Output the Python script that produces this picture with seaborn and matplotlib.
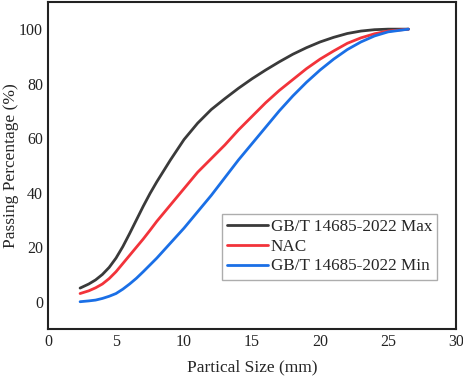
import pandas as pd
import seaborn as sns
import matplotlib
matplotlib.use("Agg")
import matplotlib.pyplot as plt

# Grading curves
size_mm = [2.36, 3, 3.5, 4, 4.5, 5, 5.5, 6, 6.5, 7, 7.5, 8, 9, 10, 11, 12, 13, 14, 15, 16,
           17, 18, 19, 20, 21, 22, 23, 24, 25, 26.5]
gb_max = [5, 6.5, 8, 10, 12.6, 16, 20.2, 25, 30, 35, 39.7, 44, 52, 59.5, 65.5, 70.5, 74.5, 78.3, 81.8, 85,
          88, 90.8, 93.2, 95.3, 97, 98.4, 99.3, 99.8, 100, 100]
nac = [3, 4, 5.1, 6.5, 8.5, 11, 14, 17, 20, 23, 26.2, 29.5, 35.5, 41.5, 47.5, 52.5, 57.5, 63, 68, 73,
       77.5, 81.5, 85.5, 89, 92, 94.8, 96.8, 98.3, 99.3, 100]
gb_min = [0, 0.3, 0.6, 1.2, 2, 3, 4.6, 6.5, 8.6, 11, 13.5, 16, 21.5, 27, 33, 39, 45.5, 52, 58, 64,
          70, 75.5, 80.5, 85, 89, 92.5, 95.3, 97.5, 99, 100]

series_names = ["GB/T 14685-2022 Max", "NAC", "GB/T 14685-2022 Min"]
series_colors = ["#3a3a3a", "#f2333a", "#1a6fe6"]

# long form table for seaborn
df = pd.concat([
    pd.DataFrame({"size": size_mm, "passing": vals, "curve": name})
    for name, vals in zip(series_names, [gb_max, nac, gb_min])
])

sns.set_theme(style="white")
plt.rcParams["font.family"] = ["Liberation Serif", "DejaVu Serif"]

fig, ax = plt.subplots(figsize=(4.64, 3.79), dpi=100)
fig.subplots_adjust(left=0.1034, right=0.983, top=0.995, bottom=0.132)

sns.lineplot(data=df, x="size", y="passing", hue="curve", hue_order=series_names,
             palette=series_colors, linewidth=2, ax=ax, sort=True, estimator=None)

ax.set_xlim(0, 30)
ax.set_ylim(-10, 110)
ax.set_xticks([0, 5, 10, 15, 20, 25, 30])
ax.set_yticks([0, 20, 40, 60, 80, 100])
ax.tick_params(direction="in", length=5, width=1.2, labelsize=11.5, colors="#222222")
for s in ax.spines.values():
    s.set_linewidth(1.5)
    s.set_color("#222222")

ax.set_xlabel("Partical Size (mm)", fontsize=12.5, labelpad=7)
ax.set_ylabel("Passing Percentage (%)", fontsize=12.5)
ax.yaxis.set_label_coords(-0.07, 0.5)

leg = ax.legend(loc="upper left", bbox_to_anchor=(0.426, 0.352), borderaxespad=0,
                fontsize=12.3, frameon=True, fancybox=False, handlelength=2.4,
                handletextpad=0.15, borderpad=0.3, labelspacing=0.22)
leg.get_frame().set_edgecolor("#999999")
leg.get_frame().set_linewidth(1.0)

fig.savefig("out.png", dpi=100)
